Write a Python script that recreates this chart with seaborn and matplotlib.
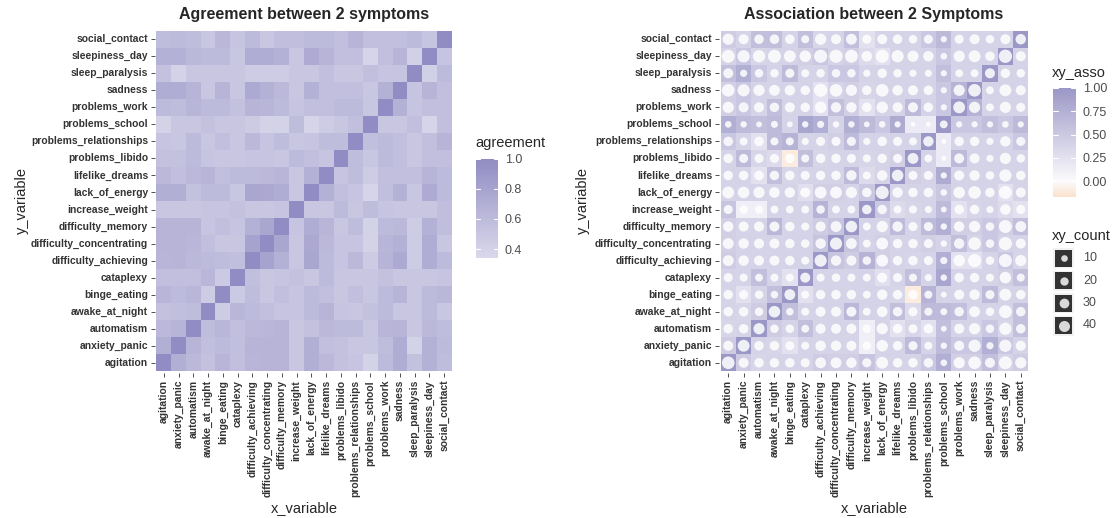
import numpy as np
import pandas as pd
import matplotlib
matplotlib.use("Agg")
import matplotlib.pyplot as plt
import seaborn as sns
from matplotlib.colors import LinearSegmentedColormap
from matplotlib.patches import Rectangle

sns.set_style("white")
plt.rcParams["font.family"] = ["Liberation Sans", "DejaVu Sans"]

symptoms = ["agitation", "anxiety_panic", "automatism", "awake_at_night", "binge_eating",
            "cataplexy", "difficulty_achieving", "difficulty_concentrating", "difficulty_memory",
            "increase_weight", "lack_of_energy", "lifelike_dreams", "problems_libido",
            "problems_relationships", "problems_school", "problems_work", "sadness",
            "sleep_paralysis", "sleepiness_day", "social_contact"]

# Agreement of each symptom with every symptom listed before it
agree_anxiety_panic = [0.70]
agree_automatism = [0.62, 0.66]
agree_awake_at_night = [0.55, 0.56, 0.58]
agree_binge_eating = [0.65, 0.60, 0.64, 0.45]
agree_cataplexy = [0.56, 0.56, 0.56, 0.64, 0.48]
agree_difficulty_achieving = [0.65, 0.66, 0.62, 0.60, 0.58, 0.56]
agree_difficulty_concentrating = [0.66, 0.66, 0.64, 0.56, 0.50, 0.50, 0.80]
agree_difficulty_memory = [0.66, 0.66, 0.66, 0.52, 0.56, 0.52, 0.68, 0.78]
agree_increase_weight = [0.50, 0.50, 0.50, 0.52, 0.52, 0.55, 0.50, 0.50, 0.52]
agree_lack_of_energy = [0.70, 0.70, 0.55, 0.60, 0.60, 0.50, 0.78, 0.76, 0.72, 0.50]
agree_lifelike_dreams = [0.62, 0.56, 0.62, 0.66, 0.56, 0.60, 0.60, 0.62, 0.65, 0.50, 0.68]
agree_problems_libido = [0.55, 0.55, 0.60, 0.52, 0.50, 0.50, 0.52, 0.52, 0.50, 0.60, 0.56, 0.52]
agree_problems_relationships = [0.52, 0.50, 0.60, 0.50, 0.56, 0.50, 0.62, 0.52, 0.58, 0.50,
                                0.52, 0.58, 0.58]
agree_problems_school = [0.40, 0.50, 0.50, 0.55, 0.50, 0.50, 0.46, 0.40, 0.40, 0.58,
                         0.38, 0.45, 0.50, 0.56]
agree_problems_work = [0.60, 0.58, 0.65, 0.60, 0.60, 0.55, 0.66, 0.65, 0.60, 0.52,
                       0.56, 0.56, 0.60, 0.60, 0.50]
agree_sadness = [0.72, 0.72, 0.66, 0.50, 0.66, 0.50, 0.75, 0.68, 0.62, 0.50,
                 0.68, 0.56, 0.56, 0.56, 0.50, 0.68]
agree_sleep_paralysis = [0.55, 0.40, 0.50, 0.50, 0.50, 0.50, 0.45, 0.45, 0.45, 0.50,
                         0.50, 0.56, 0.50, 0.50, 0.56, 0.52, 0.52]
agree_sleepiness_day = [0.68, 0.68, 0.62, 0.60, 0.60, 0.50, 0.72, 0.72, 0.68, 0.50,
                        0.74, 0.66, 0.56, 0.56, 0.38, 0.56, 0.66, 0.42]
agree_social_contact = [0.58, 0.60, 0.58, 0.50, 0.63, 0.52, 0.60, 0.50, 0.57, 0.57,
                        0.60, 0.60, 0.56, 0.66, 0.56, 0.56, 0.56, 0.60, 0.52]

# Association of each symptom with every symptom listed before it
asso_anxiety_panic = [0.47]
asso_automatism = [0.37, 0.40]
asso_awake_at_night = [0.40, 0.37, 0.47]
asso_binge_eating = [0.40, 0.25, 0.40, 0.60]
asso_cataplexy = [0.40, 0.40, 0.60, 0.40, 0.25]
asso_difficulty_achieving = [0.47, 0.40, 0.40, 0.40, 0.40, 0.40]
asso_difficulty_concentrating = [0.43, 0.40, 0.40, 0.40, 0.40, 0.40, 0.55]
asso_difficulty_memory = [0.43, 0.40, 0.40, 0.68, 0.40, 0.40, 0.47, 0.55]
asso_increase_weight = [0.55, 0.12, 0.12, 0.40, 0.40, 0.40, 0.72, 0.40, 0.40]
asso_lack_of_energy = [0.40, 0.40, 0.40, 0.40, 0.40, 0.27, 0.43, 0.43, 0.40, 0.52]
asso_lifelike_dreams = [0.40, 0.40, 0.25, 0.60, 0.37, 0.40, 0.40, 0.40, 0.63, 0.32, 0.40]
asso_problems_libido = [0.40, 0.63, 0.37, 0.32, -0.10, 0.60, 0.37, 0.40, 0.40, 0.37, 0.40, 0.43]
asso_problems_relationships = [0.52, 0.40, 0.25, 0.63, 0.72, 0.40, 0.40, 0.43, 0.63, 0.40,
                               0.40, 0.40, 0.40]
asso_problems_school = [0.76, 0.63, 0.60, 0.63, 0.40, 0.86, 0.76, 0.40, 0.76, 0.63,
                        0.52, 0.80, 0.16, 0.16]
asso_problems_work = [0.43, 0.52, 0.40, 0.60, 0.40, 0.40, 0.25, 0.60, 0.43, 0.25,
                      0.40, 0.40, 0.66, 0.40, 0.52]
asso_sadness = [0.43, 0.52, 0.40, 0.40, 0.40, 0.40, 0.25, 0.40, 0.43, 0.37,
                0.40, 0.40, 0.40, 0.40, 0.52, 0.72]
asso_sleep_paralysis = [0.60, 0.76, 0.52, 0.40, 0.63, 0.40, 0.40, 0.52, 0.52, 0.40,
                        0.40, 0.40, 0.40, 0.40, 0.60, 0.40, 0.40]
asso_sleepiness_day = [0.40, 0.52, 0.37, 0.40, 0.40, 0.43, 0.52, 0.40, 0.43, 0.32,
                       0.25, 0.40, 0.40, 0.40, 0.52, 0.40, 0.40, 0.40]
asso_social_contact = [0.47, 0.40, 0.60, 0.60, 0.40, 0.60, 0.37, 0.40, 0.60, 0.25,
                       0.40, 0.40, 0.40, 0.52, 0.66, 0.40, 0.40, 0.40, 0.40]

# Number of patients sharing both symptoms
count_diag = [55, 48, 42, 45, 39, 32, 51, 51, 45, 28, 60, 45, 39, 35, 17, 48, 55, 32, 62, 35]
count_anxiety_panic = [32]
count_automatism = [28, 28]
count_awake_at_night = [28, 28, 21]
count_binge_eating = [28, 25, 21, 15]
count_cataplexy = [25, 18, 17, 18, 17]
count_difficulty_achieving = [39, 35, 32, 32, 28, 18]
count_difficulty_concentrating = [39, 35, 32, 32, 28, 21, 35]
count_difficulty_memory = [35, 32, 32, 32, 28, 18, 32, 39]
count_increase_weight = [25, 21, 21, 17, 17, 17, 21, 17, 17]
count_lack_of_energy = [48, 45, 42, 37, 35, 32, 48, 48, 42, 28]
count_lifelike_dreams = [28, 28, 28, 28, 28, 25, 28, 28, 35, 18, 35]
count_problems_libido = [28, 25, 25, 25, 28, 18, 28, 28, 25, 18, 28, 25]
count_problems_relationships = [28, 18, 28, 18, 18, 13, 25, 25, 25, 13, 28, 25, 17]
count_problems_school = [10, 9, 6, 12, 6, 9, 13, 9, 9, 6, 10, 8, 2, 2]
count_problems_work = [42, 32, 32, 28, 32, 28, 45, 35, 35, 28, 45, 32, 32, 28, 8]
count_sadness = [55, 51, 42, 39, 35, 28, 60, 55, 42, 28, 55, 35, 32, 28, 8, 42]
count_sleep_paralysis = [32, 13, 21, 21, 25, 18, 21, 21, 21, 13, 28, 21, 13, 13, 8, 17, 17]
count_sleepiness_day = [58, 52, 51, 58, 48, 45, 60, 60, 58, 37, 58, 51, 42, 35, 10, 42, 48, 28]
count_social_contact = [42, 32, 28, 28, 28, 18, 42, 32, 39, 25, 32, 28, 21, 25, 8, 25, 32, 21, 32]

agree_rows = [agree_anxiety_panic, agree_automatism, agree_awake_at_night, agree_binge_eating,
              agree_cataplexy, agree_difficulty_achieving, agree_difficulty_concentrating,
              agree_difficulty_memory, agree_increase_weight, agree_lack_of_energy,
              agree_lifelike_dreams, agree_problems_libido, agree_problems_relationships,
              agree_problems_school, agree_problems_work, agree_sadness, agree_sleep_paralysis,
              agree_sleepiness_day, agree_social_contact]
asso_rows = [asso_anxiety_panic, asso_automatism, asso_awake_at_night, asso_binge_eating,
             asso_cataplexy, asso_difficulty_achieving, asso_difficulty_concentrating,
             asso_difficulty_memory, asso_increase_weight, asso_lack_of_energy,
             asso_lifelike_dreams, asso_problems_libido, asso_problems_relationships,
             asso_problems_school, asso_problems_work, asso_sadness, asso_sleep_paralysis,
             asso_sleepiness_day, asso_social_contact]
count_rows = [count_anxiety_panic, count_automatism, count_awake_at_night, count_binge_eating,
              count_cataplexy, count_difficulty_achieving, count_difficulty_concentrating,
              count_difficulty_memory, count_increase_weight, count_lack_of_energy,
              count_lifelike_dreams, count_problems_libido, count_problems_relationships,
              count_problems_school, count_problems_work, count_sadness, count_sleep_paralysis,
              count_sleepiness_day, count_social_contact]


def symmetric(rows, diag):
    n = len(symptoms)
    m = np.zeros((n, n))
    m[np.arange(n), np.arange(n)] = diag
    for i, vals in enumerate(rows, start=1):
        m[i, :i] = vals
        m[:i, i] = vals
    return m


agree = symmetric(agree_rows, 1.0)
asso = symmetric(asso_rows, 1.0)
count = symmetric(count_rows, count_diag)

# y axis runs bottom-up: agitation at the bottom, social_contact at the top
ylabels = symptoms[::-1]
agree_df = pd.DataFrame(agree[::-1], index=ylabels, columns=symptoms)
asso_df = pd.DataFrame(asso[::-1], index=ylabels, columns=symptoms)

W, H = 1114, 518


def box(x0, y0, x1, y1):
    return [x0 / W, 1 - y1 / H, (x1 - x0) / W, (y1 - y0) / H]


fig = plt.figure(figsize=(W / 100, H / 100), dpi=100)
fig.patch.set_facecolor("white")

TICK_COLOR = "#333333"
LABEL_COLOR = "#4d4d4d"

agree_cmap = LinearSegmentedColormap.from_list("agree", ["#dad9eb", "#918cc3"])
asso_lo, asso_hi = -0.17, 1.0
asso_cmap = LinearSegmentedColormap.from_list(
    "asso", [(0.0, "#fbe2cb"), (-asso_lo / (asso_hi - asso_lo), "#fbfafc"), (1.0, "#9b97c7")])


def style_axes(ax):
    ax.set_xlim(-0.1, 20.1)
    ax.set_ylim(20.1, -0.1)
    ax.set_xlabel("")
    ax.set_ylabel("")
    ax.set_xticks(np.arange(20) + 0.5)
    ax.set_yticks(np.arange(20) + 0.5)
    ax.set_xticklabels(symptoms, rotation=90, ha="center", va="top")
    ax.set_yticklabels(ylabels, rotation=0, ha="right", va="center")
    ax.tick_params(axis="both", length=3, width=0.6, color=TICK_COLOR, labelsize=7.4,
                   labelcolor=TICK_COLOR, pad=2, bottom=True, left=True)
    for lab in ax.get_xticklabels() + ax.get_yticklabels():
        lab.set_fontweight("bold")
    for s in ax.spines.values():
        s.set_visible(False)


def style_cbar(cax, ticks, fmt):
    cax.tick_params(length=0, labelsize=9, labelcolor=LABEL_COLOR, pad=5)
    for t in ticks:
        cax.axhline(t, 0, 0.2, color="white", lw=0.8)
        cax.axhline(t, 0.8, 1.0, color="white", lw=0.8)
    cax.set_yticks(ticks)
    cax.set_yticklabels([fmt.format(t) for t in ticks])
    for s in cax.spines.values():
        s.set_visible(False)


# ---- left panel: agreement heatmap ----
ax1 = fig.add_axes(box(155, 29, 453, 373))
cax1 = fig.add_axes(box(476, 159, 498, 258))
sns.heatmap(agree_df, ax=ax1, cmap=agree_cmap, vmin=0.34, vmax=1.0, cbar_ax=cax1,
            xticklabels=True, yticklabels=True, linewidths=0)
ax1.collections[0].colorbar.outline.set_visible(False)
style_axes(ax1)
style_cbar(cax1, [0.4, 0.6, 0.8, 1.0], "{:.1f}")

# ---- right panel: association heatmap with co-occurrence counts ----
ax2 = fig.add_axes(box(719, 29, 1030, 373))
cax2 = fig.add_axes(box(1053, 88, 1076, 197))
sns.heatmap(asso_df, ax=ax2, cmap=asso_cmap, vmin=asso_lo, vmax=asso_hi, cbar_ax=cax2,
            xticklabels=True, yticklabels=True, linewidths=0)
ax2.collections[0].colorbar.outline.set_visible(False)

n = len(symptoms)
ii, jj = np.meshgrid(np.arange(n), np.arange(n), indexing="ij")
points = pd.DataFrame({
    "xpos": jj.ravel() + 0.5,
    "ypos": (n - 1 - ii.ravel()) + 0.5,
    "xy_count": count.ravel(),
})
SIZE_MAX_COUNT = 62
SIZES = (9.5, 92.0)
sns.scatterplot(data=points, x="xpos", y="ypos", size="xy_count", sizes=SIZES,
                size_norm=(0, SIZE_MAX_COUNT), color="white", alpha=0.85, linewidth=0,
                legend=False, ax=ax2, zorder=3)
style_axes(ax2)
style_cbar(cax2, [0.0, 0.25, 0.5, 0.75, 1.0], "{:.2f}")

# ---- titles and axis labels ----
fig.text(304 / W, 1 - 14 / H, "Agreement between 2 symptoms", ha="center", va="center",
         fontsize=11.5, fontweight="bold")
fig.text(874 / W, 1 - 14 / H, "Association between 2 Symptoms", ha="center", va="center",
         fontsize=11.5, fontweight="bold")
for xc in (304, 874):
    fig.text(xc / W, 1 - 508 / H, "x_variable", ha="center", va="center", fontsize=10.5)
for xc in (22, 583):
    fig.text(xc / W, 1 - 200 / H, "y_variable", ha="center", va="center", fontsize=10.5,
             rotation=90)

# ---- legend titles ----
fig.text(475 / W, 1 - 143 / H, "agreement", ha="left", va="center", fontsize=10.5)
fig.text(1052 / W, 1 - 73 / H, "xy_asso", ha="left", va="center", fontsize=10.5)
fig.text(1052 / W, 1 - 236 / H, "xy_count", ha="left", va="center", fontsize=10.5)

# ---- size legend ----
lax = fig.add_axes(box(1045, 245, 1110, 340))
lax.set_xlim(1045, 1110)
lax.set_ylim(340, 245)
lax.axis("off")
legend_counts = [10, 20, 30, 40]
legend_y = [258, 280.5, 303, 325.5]
for c, yc in zip(legend_counts, legend_y):
    lax.add_patch(Rectangle((1053, yc - 10), 21, 20, fc="#f2f2f2", ec="none"))
    lax.add_patch(Rectangle((1055, yc - 8.5), 17, 17, fc="#333333", ec="none"))
    area = SIZES[0] + (SIZES[1] - SIZES[0]) * c / SIZE_MAX_COUNT
    lax.scatter([1063.5], [yc], s=area, color="#d9d9d9", linewidths=0, zorder=3)
    lax.text(1083, yc, str(c), ha="left", va="center", fontsize=9, color=LABEL_COLOR)

fig.savefig("out.png", dpi=100, facecolor="white")
